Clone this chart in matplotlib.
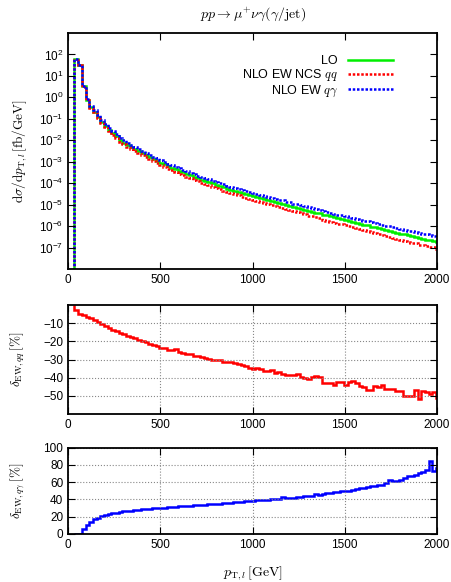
import numpy as np
import matplotlib
matplotlib.use("Agg")
import matplotlib.pyplot as plt
from matplotlib.ticker import LogLocator, NullFormatter, FixedLocator

plt.rcParams['font.family'] = ['Liberation Sans', 'DejaVu Sans']
plt.rcParams['mathtext.fontset'] = 'cm'
plt.rcParams['font.size'] = 8.5

# bin edges in GeV (20 GeV bins)
edges = np.arange(35, 2016, 20)

# LO distribution, log10 of dsigma/dpT [fb/GeV] per bin
lo_log10 = [
    1.77, 1.53, 0.52, -0.10, -0.46, -0.66, -0.92, -1.14, -1.32, -1.53,
    -1.68, -1.82, -2.00, -2.11, -2.22, -2.32, -2.42, -2.52, -2.61, -2.70,
    -2.79, -2.88, -2.96, -3.04, -3.12, -3.20, -3.28, -3.35, -3.42, -3.49,
    -3.56, -3.63, -3.70, -3.77, -3.83, -3.89, -3.95, -4.01, -4.07, -4.13,
    -4.19, -4.25, -4.30, -4.35, -4.40, -4.45, -4.50, -4.55, -4.60, -4.65,
    -4.69, -4.74, -4.78, -4.83, -4.87, -4.92, -4.96, -5.01, -5.05, -5.10,
    -5.14, -5.19, -5.23, -5.28, -5.32, -5.37, -5.41, -5.46, -5.50, -5.55,
    -5.59, -5.64, -5.68, -5.72, -5.76, -5.81, -5.85, -5.89, -5.93, -5.97,
    -6.02, -6.06, -6.10, -6.14, -6.18, -6.22, -6.27, -6.31, -6.35, -6.39,
    -6.43, -6.47, -6.51, -6.55, -6.59, -6.63, -6.67, -6.71, -6.75,
]

# relative EW corrections [%]
delta_qq = [
    -2.8, -5.0, -5.7, -6.5, -7.4, -8.3, -9.4, -10.5, -11.6, -12.6,
    -13.5, -14.4, -15.2, -16.1, -16.8, -17.6, -18.3, -19.1, -19.8, -20.5,
    -21.3, -22.0, -22.7, -23.5, -23.9, -24.6, -25.0, -24.4, -26.0, -26.6,
    -26.8, -27.0, -28.2, -28.0, -28.4, -29.3, -29.6, -30.0, -30.2, -30.0,
    -31.2, -31.6, -31.3, -32.2, -32.6, -32.8, -33.8, -34.6, -35.4, -34.8,
    -35.0, -36.2, -36.6, -36.0, -37.2, -37.0, -38.0, -38.6, -38.6, -38.8,
    -38.2, -39.8, -40.3, -40.8, -39.6, -39.3, -39.5, -42.8, -42.8, -43.2,
    -43.8, -42.4, -42.6, -43.9, -42.5, -41.8, -43.0, -44.8, -45.2, -46.8,
    -46.6, -44.5, -45.0, -44.2, -46.0, -46.3, -46.5, -47.2, -47.2, -50.2,
    -50.2, -50.0, -46.6, -52.0, -47.5, -48.0, -49.0, -48.0, -51.0,
]

delta_qa = [
    0.2, 0.4, 5.4, 10.4, 14.3, 17.2, 19.0, 20.5, 21.8, 23.0,
    24.0, 24.8, 25.5, 26.1, 26.6, 27.1, 27.6, 28.0, 28.4, 28.8,
    29.2, 29.6, 30.0, 30.4, 30.7, 31.0, 31.3, 31.6, 31.9, 32.2,
    32.5, 32.8, 33.1, 33.4, 33.7, 34.0, 34.3, 34.6, 34.9, 35.2,
    35.6, 35.9, 36.3, 36.6, 37.0, 37.4, 37.8, 38.2, 38.6, 38.9,
    39.2, 39.5, 39.8, 40.1, 40.4, 40.8, 43.0, 41.2, 41.6, 42.0,
    42.5, 43.0, 43.5, 44.0, 44.6, 45.8, 45.0, 46.0, 47.0, 47.8,
    48.5, 49.0, 49.3, 49.6, 50.2, 51.0, 52.0, 52.8, 53.5, 54.0,
    55.5, 56.0, 56.2, 57.0, 58.6, 62.8, 61.4, 61.4, 63.0, 64.5,
    67.0, 67.4, 68.2, 70.3, 72.0, 74.0, 85.0, 73.5, 76.0,
]

lo = 10.0 ** np.array(lo_log10)
nlo_qq = lo * (1 + np.array(delta_qq) / 100)
nlo_qa = lo * (1 + np.array(delta_qa) / 100)

W, H = 451, 582
fig = plt.figure(figsize=(W / 100, H / 100), dpi=100)

def box(top, bottom):
    return [68 / W, 1 - bottom / H, 369 / W, (bottom - top) / H]

ax1 = fig.add_axes(box(33, 269))
ax2 = fig.add_axes(box(305, 414))
ax3 = fig.add_axes(box(447.7, 534))

dots = (0, (1.0, 0.7))
ax1.stairs(lo, edges, baseline=1e-12, color='#00ee00', lw=1.8, label='LO')
ax1.stairs(nlo_qq, edges, baseline=1e-12, color='#ff0000', lw=1.8, ls=dots,
           label=r'NLO EW NCS $qq$')
ax1.stairs(nlo_qa, edges, baseline=1e-12, color='#0000ff', lw=1.8, ls=dots,
           label=r'NLO EW $q\gamma$')
ax1.set_yscale('log')
ax1.set_ylim(1e-8, 1e3)
ax1.yaxis.set_major_locator(FixedLocator([10.0 ** k for k in range(-7, 3)]))
ax1.yaxis.set_minor_locator(LogLocator(base=10, subs=np.arange(2, 10)))
ax1.yaxis.set_minor_formatter(NullFormatter())
ax1.set_ylabel(r'$\mathrm{d}\sigma/\mathrm{d}p_{\mathrm{T},l}\,[\mathrm{fb}/\mathrm{GeV}]$',
               fontsize=9.5)
ax1.yaxis.set_label_coords(-0.105, 0.5)
leg = ax1.legend(loc='upper right', bbox_to_anchor=(0.881, 0.905), frameon=False,
                 markerfirst=False, handlelength=3.6, handletextpad=0.8,
                 labelspacing=0.0, borderpad=0, borderaxespad=0, fontsize=9)

ax2.stairs(delta_qq, edges, color='#ff0000', lw=1.8)
ax2.set_ylim(-60, 0)
ax2.set_yticks([-50, -40, -30, -20, -10])
ax2.set_ylabel(r'$\delta_{\mathrm{EW},qq}\,[\%]$', fontsize=9.5)
ax2.yaxis.set_label_coords(-0.11, 0.5)

ax3.stairs(delta_qa, edges, color='#0000ff', lw=1.8)
ax3.set_ylim(0, 100)
ax3.set_yticks([0, 20, 40, 60, 80, 100])
ax3.set_ylabel(r'$\delta_{\mathrm{EW},q\gamma}\,[\%]$', fontsize=9.5)
ax3.yaxis.set_label_coords(-0.11, 0.5)

for ax in (ax1, ax2, ax3):
    ax.set_xlim(0, 2000)
    ax.set_xticks([0, 500, 1000, 1500, 2000])
    ax.tick_params(which='both', direction='in', top=True, right=True)
    ax.tick_params(which='major', length=5, width=0.8)
    ax.tick_params(which='minor', length=3, width=0.6)
    for s in ax.spines.values():
        s.set_linewidth(1.3)
for ax in (ax2, ax3):
    ax.grid(True, color='#888888', ls=':', lw=0.8)

fig.text(253 / W, 1 - 14 / H, r'$pp \rightarrow \mu^{+}\nu\gamma(\gamma/\mathrm{jet})$',
         ha='center', va='center', fontsize=10)
fig.text(253 / W, 1 - 573 / H, r'$p_{\mathrm{T},l}\,[\mathrm{GeV}]$',
         ha='center', va='center', fontsize=10)

fig.savefig('out.png', dpi=100)
